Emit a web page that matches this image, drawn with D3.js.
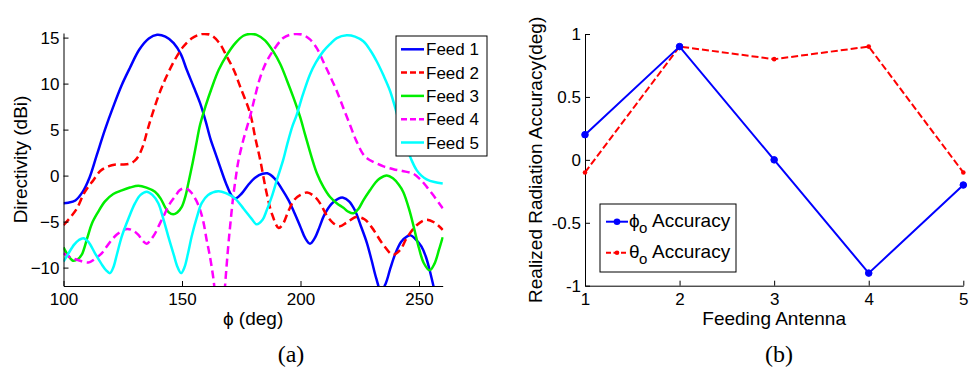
<!DOCTYPE html>
<html>
<head>
<meta charset="utf-8">
<script src="https://cdn.jsdelivr.net/npm/d3@7"></script>
<style>
  html, body { margin: 0; padding: 0; background: #fff; }
  svg { display: block; }
  text { font-family: "Liberation Sans", Arial, Helvetica, sans-serif; fill: #000; }
  .cap { font-family: "Liberation Serif", "Times New Roman", serif; }
</style>
</head>
<body>
<svg id="fig" width="973" height="373"></svg>
<script>
// ---- (a) directivity patterns: [phi (deg), directivity (dBi)] ----
const phiTicks = [100, 150, 200, 250];
const dBiTicks = [-10, -5, 0, 5, 10, 15];
const feedNames = ["Feed 1", "Feed 2", "Feed 3", "Feed 4", "Feed 5"];

const feed1 = [[100,-3.0],[102,-2.95],[105,-2.7],[108,-1.8],[111,-0.2],[114,2.2],[117.5,5.0],[121,7.5],[124.5,9.8],[128,11.7],[132,13.7],[136,14.9],[139.5,15.3],[143,15.1],[146.5,14.4],[149.5,13.2],[152,11.5],[155,9.6],[157.6,7.9],[160,5.9],[162,4.0],[164,2.5],[166,1.0],[168.5,-0.8],[171,-2.2],[172.5,-2.5],[175,-2.0],[178,-1.0],[181,-0.2],[184,0.2],[186,0.25],[189,-0.3],[192.5,-1.6],[195,-2.7],[197,-3.8],[200,-5.6],[202,-6.8],[204,-7.4],[206,-6.8],[208,-5.6],[210,-4.3],[213,-3.1],[216,-2.5],[218,-2.4],[220.5,-2.8],[223,-3.8],[225.5,-5.5],[228,-7.3],[230,-9.2],[232,-11.2],[234,-12.6],[236,-11.7],[238,-10.0],[240,-8.5],[242.5,-7.2],[245,-6.6],[246.5,-6.5],[248.5,-6.9],[251,-7.7],[253,-8.9],[255,-10.8],[257,-13.0],[260,-16]];

const feed2 = [[100,-5.4],[103,-4.5],[105.6,-3.6],[108.5,-2.0],[110.5,-1.2],[112.6,-0.5],[115.5,0.5],[118.9,1.0],[122,1.2],[125,1.2],[128,1.3],[130,1.6],[131.6,2.1],[133.5,3.2],[135.5,5.0],[138,7.1],[141,9.3],[143.5,10.8],[147,12.6],[150.5,14.0],[154,14.9],[157,15.3],[159,15.4],[162,15.3],[165.5,14.5],[169,12.9],[172,11.4],[174.5,9.7],[178.7,6.8],[181,4.0],[183,1.7],[185.7,-1.9],[188,-4.2],[190.8,-5.7],[192.5,-5.3],[195,-3.8],[197.5,-2.6],[200,-2.1],[202.8,-1.85],[206,-2.3],[208.5,-3.1],[211,-4.3],[214,-5.2],[216.7,-5.5],[219.5,-5.1],[223.5,-4.5],[227,-4.75],[230,-5.6],[235,-7.55],[239,-8.6],[242,-8.1],[244.8,-6.8],[249,-5.4],[253,-4.8],[256.5,-5.1],[260,-5.9]];

const feed3 = [[100,-7.8],[102,-8.7],[104,-9.25],[106,-9.1],[107.7,-8.6],[110,-6.8],[112,-5.2],[114.5,-4.0],[117.5,-2.8],[121,-2.0],[124.6,-1.6],[128,-1.3],[131.6,-1.1],[135,-1.3],[138.6,-1.75],[141,-2.5],[142.8,-3.4],[144.5,-4.0],[146.3,-4.2],[148,-4.0],[149.9,-3.4],[151.5,-2.2],[152.7,-0.8],[154.5,1.4],[156,3.4],[157.6,5.5],[160,7.6],[162.5,9.5],[165.5,11.5],[168.9,13.1],[172.5,14.4],[175.9,15.2],[178.7,15.4],[181.5,15.3],[185,14.7],[188.5,13.5],[191.5,12.1],[194.2,10.4],[197,8.5],[199.8,6.4],[202,4.4],[204.8,1.9],[207,0.2],[209.6,-1.2],[212.4,-2.3],[215.3,-3.0],[218.1,-3.5],[220,-3.9],[222.3,-4.1],[224.5,-3.6],[226.5,-2.7],[229.3,-1.6],[231.5,-0.8],[233.5,-0.3],[236.4,0.0],[239,-0.3],[241.5,-1.0],[243.4,-1.8],[246,-3.8],[248,-5.8],[250,-7.9],[252,-9.5],[254.5,-10.3],[256.5,-9.6],[258.5,-8.0],[260,-6.7]];

const feed4 = [[100,-8.45],[103,-8.9],[106.3,-9.2],[110.5,-9.45],[113,-9.1],[116.1,-8.45],[118,-7.8],[120.3,-7.0],[122.5,-6.4],[125,-5.95],[127,-5.8],[129.5,-6.0],[131.6,-6.45],[133.5,-7.1],[135.1,-7.4],[137,-6.9],[138.6,-6.3],[140.5,-5.3],[142.8,-4.1],[145,-3.0],[147,-2.3],[149,-1.6],[150.5,-1.4],[152.5,-1.5],[154.1,-1.9],[156,-2.7],[157.6,-3.7],[159,-5.0],[160.4,-7.0],[161.5,-8.4],[162.5,-9.9],[163.6,-12.0],[165,-18],[166.5,-18],[168.1,-12.2],[169.5,-7.7],[170.5,-5.0],[171.6,-2.3],[172.7,-0.2],[173.8,1.6],[176,4.0],[178.7,6.4],[180.8,8.6],[182.9,10.6],[185.5,12.3],[188.5,13.6],[192.7,14.95],[195.5,15.3],[198.4,15.4],[201,15.3],[204,14.8],[207,13.8],[209.6,12.4],[212.5,10.8],[215.3,9.2],[218,7.4],[220.9,5.5],[223.5,3.8],[226.5,2.3],[228.5,1.8],[230.7,1.5],[235,1.0],[239.2,0.7],[243,0.5],[247.6,0.2],[250.5,-0.4],[253.2,-1.2],[256.5,-2.3],[260,-3.55]];

const feed5 = [[100,-9.35],[102,-8.5],[104.5,-7.5],[106.5,-7.0],[108.4,-6.8],[110.5,-7.2],[113.3,-8.45],[116,-9.6],[118,-10.3],[119.6,-10.6],[121,-10.0],[122.5,-8.6],[124.6,-6.6],[127.5,-4.6],[130.2,-3.0],[132.5,-2.1],[135.1,-1.75],[137.5,-2.1],[140,-3.0],[142,-4.6],[144.2,-6.6],[146.5,-8.6],[148.2,-10.0],[149.6,-10.6],[151,-10.0],[152.5,-8.5],[154.1,-6.6],[156.2,-4.6],[158.3,-3.0],[161,-2.1],[165.3,-1.7],[168.5,-1.9],[172.4,-2.5],[176,-3.6],[179.4,-4.7],[181.5,-5.3],[184,-4.8],[185.7,-3.8],[188,-2.2],[190,-0.5],[192.7,1.7],[194.5,3.5],[196.5,5.3],[198.4,6.6],[201,8.8],[204,11.0],[206.5,12.3],[209.6,13.5],[212.5,14.3],[215.3,14.95],[219.5,15.25],[223,15.1],[226.5,14.6],[229.5,13.6],[232.2,12.4],[235,10.9],[237.8,9.2],[240.6,6.8],[242.7,4.9],[244.8,3.1],[247,1.6],[249,0.6],[251,0.0],[253.2,-0.4],[256.5,-0.7],[260,-0.85]];

const feeds = [feed1, feed2, feed3, feed4, feed5];
const feedColors = ["#0000ff", "#ff0000", "#00ee00", "#ff00ff", "#00ffff"];
const feedDashed = [false, true, false, true, false];

// ---- (b) realized radiation accuracy per feeding antenna ----
const antennas = [1, 2, 3, 4, 5];
const phiAccuracy = [0.2, 0.9, 0.0, -0.9, -0.2];
const thetaAccuracy = [-0.1, 0.9, 0.8, 0.9, -0.1];
const accTicks = [-1, -0.5, 0, 0.5, 1];

const svg = d3.select("#fig");

function styleAxis(g) {
  g.selectAll("path.domain").attr("stroke", "#000").attr("stroke-width", 1);
  g.selectAll(".tick line").attr("stroke", "#000").attr("stroke-width", 1);
  g.selectAll(".tick text").attr("font-size", 17)
    .attr("font-family", "'Liberation Sans', Arial, sans-serif").attr("fill", "#000");
}

// ================= panel (a) =================
const xa = d3.scaleLinear().domain([100, 260]).range([63.5, 442.7]);
const ya = d3.scaleLinear().domain([-12, 15.5]).range([286, 33]);

svg.append("defs").append("clipPath").attr("id", "clipA")
  .append("rect").attr("x", xa(100)).attr("y", ya(15.5))
  .attr("width", xa(260) - xa(100) + 1).attr("height", ya(-12) - ya(15.5));

const lineA = d3.line().x(d => xa(d[0])).y(d => ya(d[1])).curve(d3.curveCatmullRom.alpha(0.5));

const gA = svg.append("g");
gA.append("g").attr("clip-path", "url(#clipA)")
  .selectAll("path").data(feeds).join("path")
  .attr("d", d => lineA(d))
  .attr("fill", "none")
  .attr("stroke", (d, i) => feedColors[i])
  .attr("stroke-width", 2.5)
  .attr("stroke-linejoin", "round")
  .attr("stroke-dasharray", (d, i) => feedDashed[i] ? "8,4.5" : null);

gA.append("g").attr("transform", `translate(0,${ya(-12)})`)
  .call(d3.axisBottom(xa).tickValues(phiTicks).tickSizeInner(-5).tickSizeOuter(0).tickPadding(7))
  .call(styleAxis);
gA.append("g").attr("transform", `translate(${xa(100)},0)`)
  .call(d3.axisLeft(ya).tickValues(dBiTicks).tickSizeInner(-5).tickSizeOuter(0).tickPadding(4))
  .call(styleAxis);

gA.append("text").attr("transform", `translate(27,${(ya(-12) + ya(15.5)) / 2}) rotate(-90)`)
  .attr("text-anchor", "middle").attr("font-size", 19).text("Directivity (dBi)");
gA.append("text").attr("x", (xa(100) + xa(260)) / 2).attr("y", 325)
  .attr("text-anchor", "middle").attr("font-size", 19).text("ϕ (deg)");

// legend (a)
const legA = gA.append("g");
legA.append("rect").attr("x", 396).attr("y", 36).attr("width", 91).attr("height", 120)
  .attr("fill", "#fff").attr("stroke", "#000").attr("stroke-width", 1);
feedNames.forEach((name, i) => {
  const cy = 49.3 + i * 23.3;
  legA.append("line").attr("x1", 401).attr("x2", 424).attr("y1", cy).attr("y2", cy)
    .attr("stroke", feedColors[i]).attr("stroke-width", 2.5)
    .attr("stroke-dasharray", feedDashed[i] ? "6,3" : null);
  legA.append("text").attr("x", 426).attr("y", cy + 6).attr("font-size", 17).text(name);
});

svg.append("text").attr("class", "cap").attr("x", 291).attr("y", 362)
  .attr("text-anchor", "middle").attr("font-size", 24).text("(a)");

// ================= panel (b) =================
const xb = d3.scaleLinear().domain([1, 5]).range([585, 963.3]);
const yb = d3.scaleLinear().domain([-1, 1]).range([285.7, 34]);

const gB = svg.append("g");
gB.append("g").attr("transform", `translate(0,${yb(-1)})`)
  .call(d3.axisBottom(xb).tickValues(antennas).tickFormat(d3.format("d")).tickSizeInner(-5).tickSizeOuter(0).tickPadding(7))
  .call(styleAxis);
gB.append("g").attr("transform", `translate(${xb(1)},0)`)
  .call(d3.axisLeft(yb).tickValues(accTicks).tickFormat(d => String(d)).tickSizeInner(-5).tickSizeOuter(0).tickPadding(4))
  .call(styleAxis);

const lineB = d3.line().x((d, i) => xb(antennas[i])).y(d => yb(d));

gB.append("path").attr("d", lineB(thetaAccuracy)).attr("fill", "none")
  .attr("stroke", "#ff0000").attr("stroke-width", 2).attr("stroke-dasharray", "7,3");
gB.selectAll("circle.theta").data(thetaAccuracy).join("circle").attr("class", "theta")
  .attr("cx", (d, i) => xb(antennas[i])).attr("cy", d => yb(d)).attr("r", 2.3).attr("fill", "#ff0000");

gB.append("path").attr("d", lineB(phiAccuracy)).attr("fill", "none")
  .attr("stroke", "#0000ff").attr("stroke-width", 2);
gB.selectAll("circle.phi").data(phiAccuracy).join("circle").attr("class", "phi")
  .attr("cx", (d, i) => xb(antennas[i])).attr("cy", d => yb(d)).attr("r", 3.3)
  .attr("fill", "#0000ff").attr("stroke", "#0000ff").attr("stroke-width", 1);

gB.append("text").attr("transform", `translate(542,${(yb(-1) + yb(1)) / 2}) rotate(-90)`)
  .attr("text-anchor", "middle").attr("font-size", 19).text("Realized Radiation Accuracy(deg)");
gB.append("text").attr("x", (xb(1) + xb(5)) / 2).attr("y", 325)
  .attr("text-anchor", "middle").attr("font-size", 19).text("Feeding Antenna");

// legend (b)
const legB = gB.append("g");
legB.append("rect").attr("x", 600).attr("y", 204).attr("width", 136).attr("height", 68)
  .attr("fill", "#fff").attr("stroke", "#000").attr("stroke-width", 1);
const legBItems = [
  { sym: "ϕ", color: "#0000ff", dash: null, r: 3.3, cy: 221.7 },
  { sym: "θ", color: "#ff0000", dash: "5,2.5", r: 2.3, cy: 252.7 }
];
legBItems.forEach(it => {
  legB.append("line").attr("x1", 606).attr("x2", 628).attr("y1", it.cy).attr("y2", it.cy)
    .attr("stroke", it.color).attr("stroke-width", 2).attr("stroke-dasharray", it.dash);
  legB.append("circle").attr("cx", 617).attr("cy", it.cy).attr("r", it.r).attr("fill", it.color);
  const t = legB.append("text").attr("y", it.cy + 5.5).attr("font-size", 19);
  t.append("tspan").attr("x", 629).text(it.sym);
  t.append("tspan").attr("x", 639).attr("dy", 6).attr("font-size", 15).text("o");
  t.append("tspan").attr("x", 652).attr("dy", -6).text("Accuracy");
});

svg.append("text").attr("class", "cap").attr("x", 779).attr("y", 362)
  .attr("text-anchor", "middle").attr("font-size", 24).text("(b)");
</script>
</body>
</html>
